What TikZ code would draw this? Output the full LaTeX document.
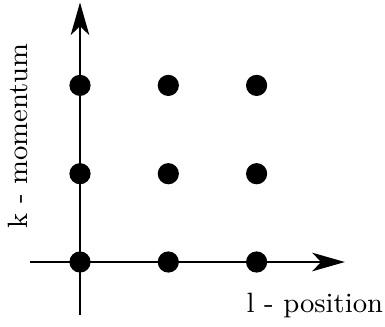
\documentclass[tikz,border=0pt]{standalone}
\usepackage{tikz}
\usetikzlibrary{arrows.meta, positioning}
\tikzset{
    dot/.style={
        circle,
        fill,
        inner sep=0pt,
        minimum size=0.24cm
    },
    axis/.style={-{Stealth[length=0.37cm, width=0.21cm, inset=0.1cm]}, line width=0.8pt},
    axislabel/.style={font=\small},
    every node/.style={font=\small}
}
\begin{document}
\begin{tikzpicture}
\useasboundingbox (-0.906,-0.736) rectangle (3.454,2.967);

\coordinate (xstart) at (-0.57,0);
\coordinate (xend) at (3.0,0);
\coordinate (ystart) at (0,-0.60);
\coordinate (yend) at (0,2.94);

\draw[axis] (xstart) -- (xend);
\draw[axis] (ystart) -- (yend);

\foreach \i in {0,1,2} {
  \foreach \j in {0,1,2} {
    \node[dot] (p\i\j) at (\i,\j) {};
  }
}

\node[axislabel] (lpos) at (2.66,-0.49) {l - position};
\node[axislabel, rotate=90] (kmom) at (-0.70,1.43) {k - momentum};
\end{tikzpicture}
\end{document}
